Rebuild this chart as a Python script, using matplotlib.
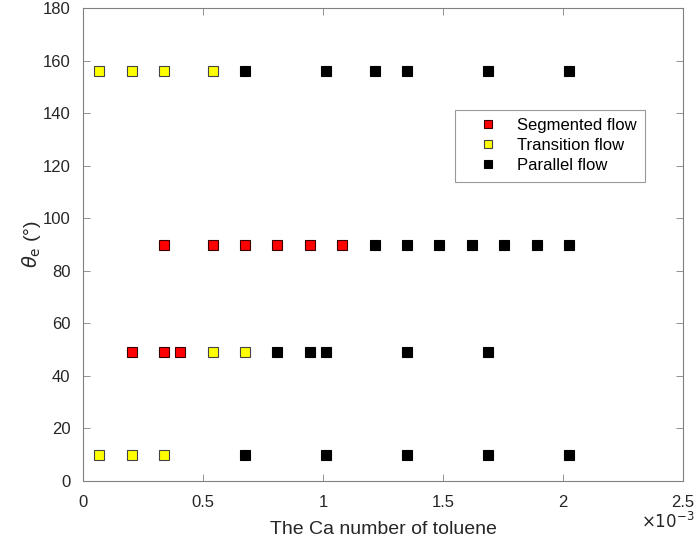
import matplotlib
matplotlib.use("Agg")
import matplotlib.pyplot as plt
from matplotlib.ticker import FuncFormatter

plt.rcParams['font.family'] = ['Liberation Sans', 'DejaVu Sans']

# Data (Ca number in units of 1e-3, contact angle in degrees)
seg_x = [0.3375, 0.54, 0.675, 0.81, 0.945, 1.08, 0.2025, 0.3375, 0.405]
seg_y = [90, 90, 90, 90, 90, 90, 49, 49, 49]

trans_x = [0.0675, 0.2025, 0.3375, 0.54, 0.54, 0.675, 0.0675, 0.2025, 0.3375]
trans_y = [156, 156, 156, 156, 49, 49, 10, 10, 10]

par_x = [0.675, 1.0125, 1.215, 1.35, 1.6875, 2.025,
         1.215, 1.35, 1.485, 1.62, 1.755, 1.89, 2.025,
         0.81, 0.945, 1.0125, 1.35, 1.6875,
         0.675, 1.0125, 1.35, 1.6875, 2.025]
par_y = [156, 156, 156, 156, 156, 156,
         90, 90, 90, 90, 90, 90, 90,
         49, 49, 49, 49, 49,
         10, 10, 10, 10, 10]

labels = ['Segmented flow', 'Transition flow', 'Parallel flow']
xticks = [0, 0.5, 1, 1.5, 2, 2.5]
yticks = list(range(0, 181, 20))

fig = plt.figure(figsize=(6.95, 5.42), dpi=100)
ax = fig.add_axes([83/695, 61/542, 600/695, 473/542])

scale = 1e-3
ms = 7
ax.plot([v * scale for v in seg_x], seg_y, 's', ms=ms, mfc='#ff0000', mec='#3a0000', mew=0.8, ls='none', label=labels[0])
ax.plot([v * scale for v in trans_x], trans_y, 's', ms=ms, mfc='#ffff00', mec='#444444', mew=0.8, ls='none', label=labels[1])
ax.plot([v * scale for v in par_x], par_y, 's', ms=ms, mfc='black', mec='black', mew=0.8, ls='none', label=labels[2])

ax.set_xlim(0, 2.5e-3)
ax.set_ylim(0, 180)
ax.set_xticks([v * scale for v in xticks])
ax.xaxis.set_major_formatter(FuncFormatter(lambda v, p: ('%g' % round(v / scale, 6))))
ax.set_yticks(yticks)

axcol = '#262626'
for s in ax.spines.values():
    s.set_color('#808080')
    s.set_linewidth(0.8)
ax.tick_params(direction='in', top=True, right=True, length=5, width=0.6,
               colors='#808080', labelcolor=axcol, labelsize=12)
ax.tick_params(axis='x', pad=10)
ax.tick_params(axis='y', pad=9)

ax.set_xlabel('The Ca number of toluene', fontsize=14, color=axcol, labelpad=8)
ax.set_ylabel(r'$\theta_{\rm e}$ (°)', fontsize=14, color=axcol, labelpad=0)
fig.text(1 - 1/695, 14/542, r'$\times10^{-3}$', fontsize=12, color=axcol, ha='right', va='baseline')

leg = ax.legend(loc='upper left', bbox_to_anchor=(455/695, 1 - 110/542), bbox_transform=fig.transFigure,
                fontsize=12, frameon=True, fancybox=False, edgecolor='#808080', markerscale=0.85,
                handlelength=3.0, handletextpad=0.2, borderpad=0.5, labelspacing=0.3, borderaxespad=0)
leg.get_frame().set_linewidth(0.8)
for t in leg.get_texts():
    t.set_color('black')

fig.savefig('out.png', dpi=100)
